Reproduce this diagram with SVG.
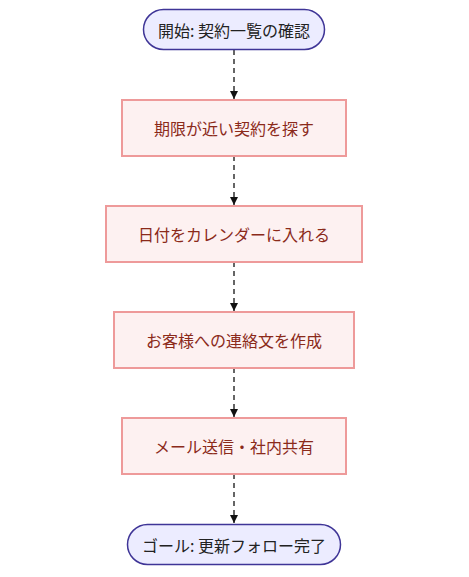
<svg xmlns="http://www.w3.org/2000/svg" width="469" height="577" viewBox="0 0 469 577">
<defs>
<style>
.term rect{fill:#ECECFF;stroke:#3F3597;stroke-width:1.5}
.proc rect{fill:#FDF1F1;stroke:#EE9A9A;stroke-width:2}
.term text{fill:#222;font-family:"Noto Sans CJK JP","Noto Sans",sans-serif;font-size:16px;text-anchor:middle;dominant-baseline:central}
.proc text{fill:#8B2A1A;font-family:"Noto Sans CJK JP","Noto Sans",sans-serif;font-size:16px;text-anchor:middle;dominant-baseline:central}
.edge{stroke:#333;stroke-width:1.5;stroke-dasharray:5 4;fill:none}
</style>
<marker id="arr" viewBox="0 0 10 10" refX="10" refY="5" markerWidth="8" markerHeight="8" markerUnits="userSpaceOnUse" orient="auto">
<path d="M0,0 L10,5 L0,10 z" fill="#111"/>
</marker>
</defs>
<rect width="469" height="577" fill="#fff"/>
<g id="connectors">
<path class="edge" d="M234,50 V99" marker-end="url(#arr)"/>
<path class="edge" d="M234,156 V205" marker-end="url(#arr)"/>
<path class="edge" d="M234,262 V311" marker-end="url(#arr)"/>
<path class="edge" d="M234,368 V417" marker-end="url(#arr)"/>
<path class="edge" d="M234,474 V523" marker-end="url(#arr)"/>
</g>
<g id="start" class="term">
<rect x="143.5" y="9.5" width="181" height="40" rx="20" ry="20"/>
<text x="234" y="29.5">開始: 契約一覧の確認</text>
</g>
<g id="step1" class="proc">
<rect x="122" y="100" width="224" height="56"/>
<text x="234" y="128">期限が近い契約を探す</text>
</g>
<g id="step2" class="proc">
<rect x="106" y="206" width="256" height="56"/>
<text x="234" y="234">日付をカレンダーに入れる</text>
</g>
<g id="step3" class="proc">
<rect x="114" y="312" width="240" height="56"/>
<text x="234" y="340">お客様への連絡文を作成</text>
</g>
<g id="step4" class="proc">
<rect x="122" y="418" width="224" height="56"/>
<text x="234" y="446">メール送信・社内共有</text>
</g>
<g id="end" class="term">
<rect x="127.5" y="524.5" width="213" height="40" rx="20" ry="20"/>
<text x="234" y="544.5">ゴール: 更新フォロー完了</text>
</g>
</svg>
